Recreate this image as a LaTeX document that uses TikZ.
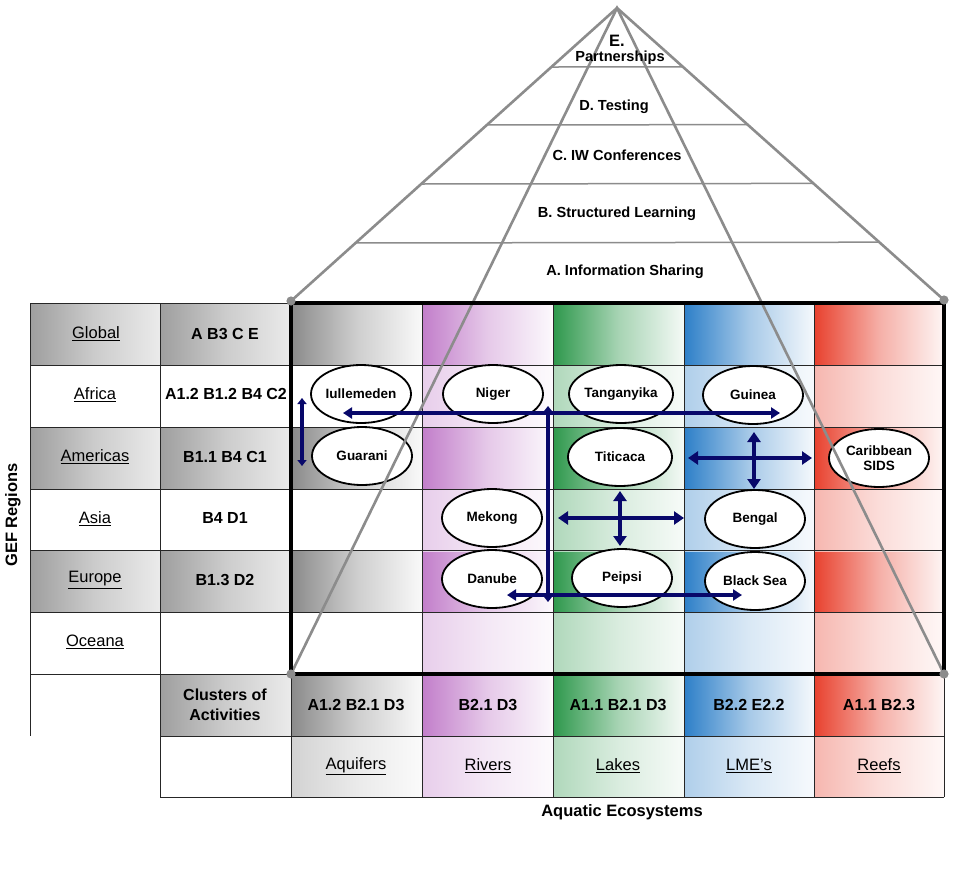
\documentclass[tikz,border=0pt]{standalone}
\usepackage{fontspec}
\setmainfont{Liberation Sans}
\usetikzlibrary{arrows.meta,calc,shapes.geometric}
\definecolor{navy}{HTML}{08086A}
\definecolor{pyrgray}{HTML}{8C8C8C}
\definecolor{cgray}{HTML}{8A8A8A}
\definecolor{cpurp}{HTML}{C27ECA}
\definecolor{cgreen}{HTML}{2E984C}
\definecolor{cblue}{HTML}{2D7FC8}
\definecolor{cred}{HTML}{E8412E}
\tikzset{
  shS/.style={left color=#1, right color=#1!5!white, middle color=#1!42!white},
  shL/.style={left color=#1!38!white, right color=#1!4!white, middle color=#1!18!white},
  shT/.style={left color=black!38, right color=black!8, middle color=black!20},
  gridline/.style={draw=black!85, line width=0.9pt},
  pyr/.style={draw=pyrgray, line width=2.6pt, line cap=round},
  pyrh/.style={draw=pyrgray, line width=1.5pt},
  frame/.style={draw=black, line width=4pt},
  lake/.style={ellipse, draw=black, line width=1.8pt, fill=white, minimum width=100pt,
    minimum height=58pt, inner sep=0pt, align=center,
    font=\fontsize{13.5}{15.5}\selectfont\bfseries},
  navarrow/.style={draw=navy, line width=4pt,
    {Triangle[length=10pt,width=13pt]}-{Triangle[length=10pt,width=13pt]}},
  navsmall/.style={draw=navy, line width=4pt,
    {Triangle[length=6pt,width=9pt]}-{Triangle[length=6pt,width=9pt]}},
  code/.style={font=\fontsize{16}{19}\selectfont\bfseries, inner sep=0pt, align=center},
  region/.style={font=\fontsize{16.5}{19}\selectfont, inner sep=0pt},
  pyrlabel/.style={font=\fontsize{14.6}{16}\selectfont\bfseries, inner sep=0pt},
  title/.style={font=\fontsize{16.5}{19}\selectfont\bfseries, inner sep=0pt}
}
\begin{document}
\begin{tikzpicture}[x=1pt,y=-1pt]
\useasboundingbox (0,0) rectangle (953,870);
\fill[white] (0,0) rectangle (953,870);

% left table shading
\foreach \y in {303,427,550}{
  \shade[shT] (30,\y) rectangle (160,\y+62);
  \shade[shT] (160,\y) rectangle (291,\y+62);
}
\shade[shT] (160,674) rectangle (291,736);

% grid shading
\foreach \x/\xr/\col in {291/422/cgray,422/553/cpurp,553/684/cgreen,684/814/cblue,814/944/cred}{
  \foreach \y in {303,427,550,674}{
    \shade[shS=\col] (\x,\y) rectangle (\xr,\y+62);
  }
  \shade[shL=\col] (\x,736) rectangle (\xr,797);
}
\foreach \x/\xr/\col in {422/553/cpurp,553/684/cgreen,684/814/cblue,814/944/cred}{
  \foreach \y in {365,489,612}{
    \shade[shL=\col] (\x,\y) rectangle (\xr,\y+62);
  }
}

% grid lines
\foreach \y in {303,365,427,489,550,612,674}{
  \draw[gridline] (30,\y) -- (944,\y);
}
\draw[gridline] (160,736) -- (944,736);
\draw[gridline] (160,797) -- (944,797);
\draw[gridline] (30,303) -- (30,736);
\draw[gridline] (160,303) -- (160,797);
\foreach \x in {291,422,553,684,814,944}{
  \draw[gridline] (\x,303) -- (\x,797);
}

% ellipses
\node[lake] (iul) at (361,394) {Iullemeden};
\node[lake] (nig) at (493,394) {Niger};
\node[lake, minimum width=104pt] (tan) at (621,394) {Tanganyika};
\node[lake] (gui) at (753,395) {Guinea};
\node[lake] (gua) at (362,456) {Guarani};
\node[lake, minimum width=104pt] (tit) at (620,457) {Titicaca};
\node[lake] (car) at (879,458) {Caribbean\\SIDS};
\node[lake] (mek) at (492,518) {Mekong};
\node[lake] (ben) at (755,519) {Bengal};
\node[lake] (dan) at (492,579) {Danube};
\node[lake] (pei) at (622,578) {Peipsi};
\node[lake] (bla) at (755,581) {Black Sea};

% pyramid
\coordinate (apex) at (617,8);
\coordinate (bl) at (291,301);
\coordinate (br) at (944,300);
\coordinate (il) at (291,674);
\coordinate (ir) at (944,674);
\draw[pyr] (bl) -- (apex) -- (br);
\draw[pyr] (il) -- (apex) -- (ir);
\foreach \t in {0.2014,0.3993,0.6007,0.802}{
  \draw[pyrh] ($(apex)!\t!(bl)$) -- ($(apex)!\t!(br)$);
}

% arrows
\coordinate (a1t) at (302,398); \coordinate (a1b) at (302,466);
\draw[navsmall, line width=3.2pt] (a1t) -- (a1b);
\coordinate (hl) at (343,413); \coordinate (hr) at (780,413);
\draw[navarrow, {Triangle[length=9pt,width=11pt]}-{Triangle[length=9pt,width=11pt]}] (hl) -- (hr);
\coordinate (vt) at (548,406); \coordinate (vb) at (548,602);
\draw[navsmall] (vt) -- (vb);
\coordinate (ll) at (507,595); \coordinate (lr) at (742,595);
\draw[navarrow, {Triangle[length=9pt,width=11pt]}-{Triangle[length=9pt,width=11pt]}] (ll) -- (lr);
\coordinate (c1l) at (558,518); \coordinate (c1r) at (684,518);
\coordinate (c1t) at (620,491); \coordinate (c1b) at (620,546);
\draw[navarrow] (c1l) -- (c1r);
\draw[navarrow] (c1t) -- (c1b);
\coordinate (c2l) at (688,458); \coordinate (c2r) at (812,458);
\coordinate (c2t) at (754,432); \coordinate (c2b) at (754,489);
\draw[navarrow] (c2l) -- (c2r);
\draw[navarrow] (c2t) -- (c2b);

% thick frame and dots
\draw[frame] (291,303) rectangle (944,674);
\foreach \p in {bl,br,il,ir}{
  \fill[pyrgray] (\p) circle (4.6);
}

% pyramid labels
\node[pyrlabel, font=\fontsize{16.5}{18}\selectfont\bfseries] (pE) at (617,41) {E.};
\node[pyrlabel] (pE2) at (620,58) {Partnerships};
\node[pyrlabel] (pD) at (614,107) {D. Testing};
\node[pyrlabel] (pC) at (617,155) {C. IW Conferences};
\node[pyrlabel] (pB) at (617,214) {B. Structured Learning};
\node[pyrlabel] (pA) at (625,272) {A. Information Sharing};

% left table labels
\node[region] (rG) at (96,334) {\underline{Global}};
\node[region] (rAf) at (95,395) {\underline{Africa}};
\node[region] (rAm) at (95,457) {\underline{Americas}};
\node[region] (rAs) at (95,519) {\underline{Asia}};
\node[region] (rE) at (95,580) {\underline{Europe}};
\node[region] (rO) at (95,642) {\underline{Oceana}};
\node[code] (kG) at (225,334) {A B3 C E};
\node[code] (kAf) at (226,394) {A1.2 B1.2 B4 C2};
\node[code] (kAm) at (225,457) {B1.1 B4 C1};
\node[code] (kAs) at (225,518) {B4 D1};
\node[code] (kE) at (225,580) {B1.3 D2};
\node[code, font=\fontsize{16}{20}\selectfont\bfseries] (kCl) at (225,705) {Clusters of\\Activities};

% clusters row
\node[code] (q1) at (356,705) {A1.2 B2.1 D3};
\node[code] (q2) at (488,705) {B2.1 D3};
\node[code] (q3) at (618,705) {A1.1 B2.1 D3};
\node[code] (q4) at (749,705) {B2.2 E2.2};
\node[code] (q5) at (879,705) {A1.1 B2.3};

% names row
\node[region] (n1) at (356,766) {\underline{Aquifers}};
\node[region] (n2) at (488,766) {\underline{Rivers}};
\node[region] (n3) at (618,766) {\underline{Lakes}};
\node[region] (n4) at (749,766) {\underline{LME's}};
\node[region] (n5) at (879,766) {\underline{Reefs}};

% axis titles
\node[title] (tAq) at (622,812) {Aquatic Ecosystems};
\node[title, rotate=90] (tGef) at (13,515) {GEF Regions};
\end{tikzpicture}
\end{document}
